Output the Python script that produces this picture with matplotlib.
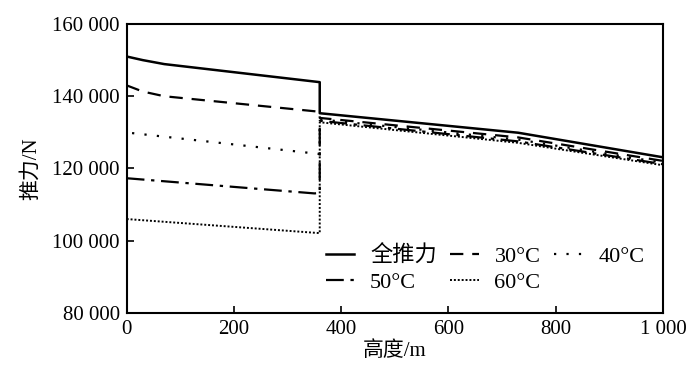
import numpy as np
import matplotlib.pyplot as plt
from matplotlib.ticker import FuncFormatter

plt.rcParams['font.family'] = ['Liberation Serif', 'Noto Sans CJK SC']
plt.rcParams['font.size'] = 15

# data: altitude (m) vs thrust (N)
h_full = [0, 30, 70, 360, 360, 730, 1000]
f_full = [151000, 150000, 148900, 143900, 135300, 129900, 123100]

h_30 = [0, 30, 70, 360, 360, 730, 1000]
f_30 = [143000, 141300, 140000, 135700, 134000, 128600, 122100]

h_40 = [10, 360, 360, 730, 1000]
f_40 = [129800, 124000, 133600, 128000, 121600]

h_50 = [0, 350, 360, 360, 730, 1000]
f_50 = [117300, 113100, 113200, 133200, 127500, 121200]

h_60 = [0, 360, 360, 730, 1000]
f_60 = [106000, 102100, 132800, 127100, 120900]

fig = plt.figure(figsize=(7, 3.84), dpi=100)
ax = fig.add_axes([0.181, 0.185, 0.766, 0.7525])

l_full, = ax.plot(h_full, f_full, color='black', lw=1.8, ls='-', label='全推力')
l_30, = ax.plot(h_30, f_30, color='black', lw=1.6, ls=(0, (6, 4)), label='30°C')
l_40, = ax.plot(h_40, f_40, color='black', lw=1.6, ls=(0, (1, 4.6)), label='40°C')
l_50, = ax.plot(h_50, f_50, color='black', lw=1.6, ls=(0, (8, 3, 1.5, 3)), label='50°C')
l_60, = ax.plot(h_60, f_60, color='black', lw=1.4, ls=(0, (1, 1)), label='60°C')

ax.set_xlim(0, 1000)
ax.set_ylim(80000, 160000)
ax.set_xticks([0, 200, 400, 600, 800, 1000])
ax.set_yticks([80000, 100000, 120000, 140000, 160000])
ax.yaxis.set_minor_locator(plt.MultipleLocator(10000))

fmt = FuncFormatter(lambda v, p: '{:,}'.format(int(v)).replace(',', ' '))
ax.xaxis.set_major_formatter(fmt)
ax.yaxis.set_major_formatter(fmt)
ax.tick_params(direction='in', length=5, width=1.2, pad=5)
ax.tick_params(which='minor', direction='in', length=0)
for s in ax.spines.values():
    s.set_linewidth(1.5)

ax.set_xlabel('高度/m', labelpad=2)
ax.set_ylabel('推力/N', labelpad=8)

handles = [l_full, l_50, l_30, l_60, l_40]
ax.legend(handles=handles, ncol=3, frameon=False, loc='lower right',
          bbox_to_anchor=(0.974, 0.055), borderaxespad=0, fontsize=16,
          handlelength=1.3, columnspacing=0.6, labelspacing=0.25,
          handletextpad=0.7, borderpad=0.2)

plt.savefig('out.png', dpi=100)
